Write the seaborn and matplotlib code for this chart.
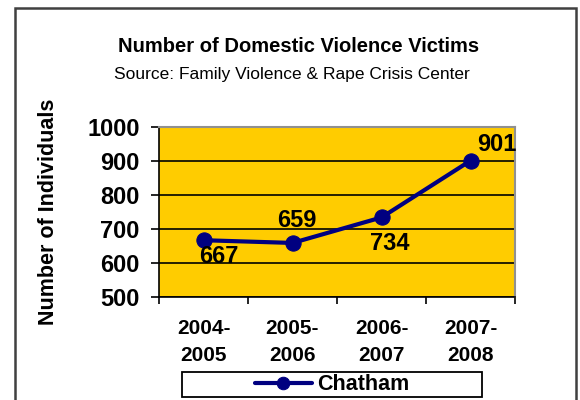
import numpy as np
import matplotlib
matplotlib.use('Agg')
import matplotlib.pyplot as plt
import matplotlib.patches as patches
import seaborn as sns
import pandas as pd

# chart data
periods = ['2004-\n2005', '2005-\n2006', '2006-\n2007', '2007-\n2008']
victims = [667, 659, 734, 901]
series_name = 'Chatham'
y_ticks = [500, 600, 700, 800, 900, 1000]

# label offsets (points) for each data label
label_offsets = [(11, -12), (3, 16), (6, -19), (19, 11.5)]

if __name__ == '__main__':
    sns.set_style('white')
    plt.rcParams['font.family'] = ['Liberation Sans', 'DejaVu Sans']
    for key in ['text.color', 'axes.labelcolor', 'xtick.color', 'ytick.color']:
        plt.rcParams[key] = 'black'

    df = pd.DataFrame({'period': periods, 'victims': victims})

    fig = plt.figure(figsize=(5.8, 4.0), dpi=100)
    ax = fig.add_axes([159 / 580, 1 - 297 / 400, 356 / 580, 170 / 400])
    ax.set_facecolor('#FFCC00')

    sns.lineplot(data=df, x='period', y='victims', ax=ax, color='#000080',
                 linewidth=3, marker='o', markersize=11, markeredgecolor='#000080',
                 label=series_name, legend=False, zorder=3)

    for i, (v, off) in enumerate(zip(victims, label_offsets)):
        ax.annotate(str(v), (i, v), textcoords='offset points', xytext=off,
                    ha='center', va='center', fontsize=17, fontweight='bold',
                    color='black', zorder=4, annotation_clip=False)

    ax.set_xlim(-0.5, 3.5)
    ax.set_ylim(500, 1000)
    ax.set_yticks(y_ticks)
    ax.yaxis.grid(True, color='black', linewidth=1.2)
    ax.xaxis.grid(False)
    ax.set_axisbelow(True)

    ax.set_xticks(range(len(periods)))
    ax.set_xticklabels(periods, fontsize=15, fontweight='bold', linespacing=1.5)
    ax.set_xticks(np.arange(-0.5, len(periods), 1), minor=True)
    ax.tick_params(axis='x', which='major', length=0, pad=16)
    ax.tick_params(axis='x', which='minor', length=5, width=1.2, direction='out',
                   color='black', bottom=True)
    ax.tick_params(axis='y', which='major', length=6, width=1.2, direction='out',
                   color='black', pad=8, labelsize=17, left=True)
    for lbl in ax.get_yticklabels():
        lbl.set_fontweight('bold')

    ax.set_xlabel('')
    ax.set_ylabel('Number of Individuals', fontsize=15.5, fontweight='bold')
    ax.yaxis.set_label_coords(-0.282, 0.5)

    for side in ['left', 'bottom']:
        ax.spines[side].set_color('black')
        ax.spines[side].set_linewidth(1.2)
    for side in ['top', 'right']:
        ax.spines[side].set_color('#909090')
        ax.spines[side].set_linewidth(1.5)

    fig.text(0.514, 1 - 47 / 400, 'Number of Domestic Violence Victims',
             ha='center', va='center', fontsize=14.5, fontweight='bold')
    fig.text(0.503, 1 - 75 / 400, 'Source: Family Violence & Rape Crisis Center',
             ha='center', va='center', fontsize=12.5)

    # legend box drawn separately so the entry sits centred inside it
    leg_box = patches.Rectangle((182 / 580, 1 - 397 / 400), 300 / 580, 25 / 400,
                                transform=fig.transFigure, facecolor='white',
                                edgecolor='black', linewidth=1.3)
    fig.add_artist(leg_box)
    handles, labels = ax.get_legend_handles_labels()
    leg = fig.legend(handles, labels, loc='center',
                     bbox_to_anchor=(332 / 580, 1 - 385 / 400),
                     frameon=False, handlelength=2.65, handletextpad=0.25,
                     borderpad=0, borderaxespad=0,
                     prop={'size': 15.5, 'weight': 'bold'})
    for h in leg.legend_handles:
        h.set_markersize(9)

    border = patches.Rectangle((15 / 580, -0.05), 561 / 580, 1.05 - 8 / 400,
                               transform=fig.transFigure, fill=False,
                               edgecolor='#404040', linewidth=1.8)
    fig.add_artist(border)

    plt.savefig('out.png', dpi=100)
